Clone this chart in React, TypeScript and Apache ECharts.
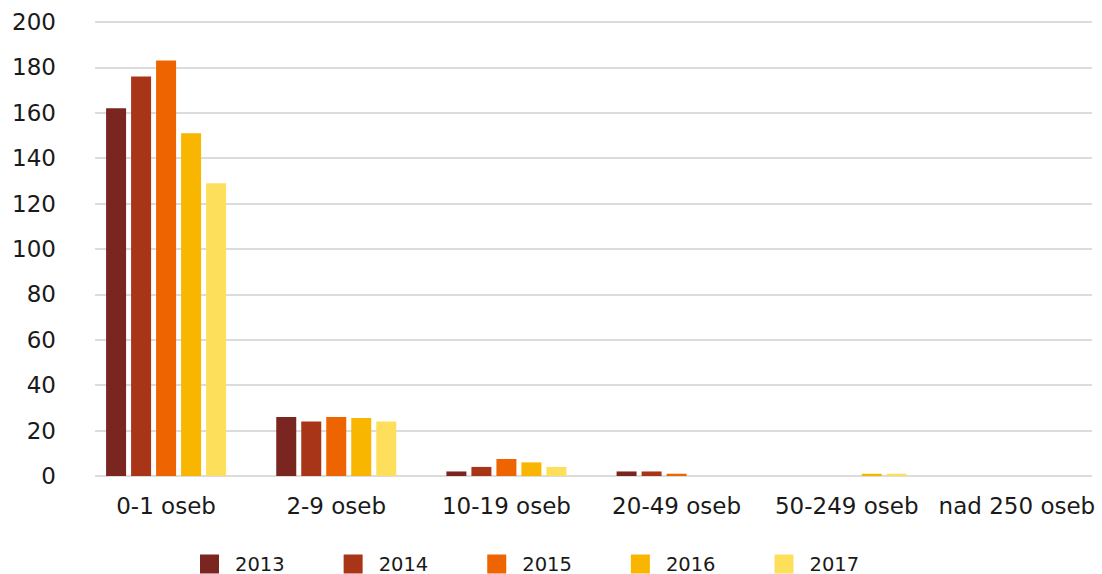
import React, { useEffect, useRef } from "react";
import * as echarts from "echarts";

const categories = ["0-1 oseb", "2-9 oseb", "10-19 oseb", "20-49 oseb", "50-249 oseb", "nad 250 oseb"];
const years = ["2013", "2014", "2015", "2016", "2017"];
const v2013 = [162, 26, 2, 2, 0, 0];
const v2014 = [176, 24, 4, 2, 0, 0];
const v2015 = [183, 26, 7.5, 1, 0, 0];
const v2016 = [151, 25.5, 6, 0, 1, 0];
const v2017 = [129, 24, 4, 0, 1, 0];
const seriesValues = [v2013, v2014, v2015, v2016, v2017];
const colors = ["#7B2520", "#A83517", "#ED6400", "#F9B600", "#FEDF5B"];

const FONT = "DejaVu Sans";

export default function App() {
  const ref = useRef<HTMLDivElement>(null);
  useEffect(() => {
    document.body.style.margin = "0";
    const chart = echarts.init(ref.current!, null, { renderer: "svg" });
    chart.setOption({
      animation: false,
      legend: {
        left: 200,
        top: 554,
        padding: 0,
        itemWidth: 19,
        itemHeight: 19,
        itemGap: 59,
        icon: "rect",
        textStyle: { fontFamily: FONT, fontSize: 19.5, lineHeight: 19, color: "#1a1a1a", padding: [0, 0, 0, 11] },
        data: years,
      },
      grid: [
        { left: 95, right: 10, top: 22, bottom: 98 },
        { left: 81, right: -6, top: 22, bottom: 98 },
      ],
      xAxis: [
        { type: "category", gridIndex: 0, data: categories, show: false },
        {
          type: "category",
          gridIndex: 1,
          data: categories,
          axisLine: { show: false },
          axisTick: { show: false },
          axisLabel: { interval: 0, fontFamily: FONT, fontSize: 23, color: "#1a1a1a", margin: 18 },
        },
      ],
      yAxis: [
        {
          type: "value",
          gridIndex: 0,
          min: 0,
          max: 200,
          interval: 20,
          axisLine: { show: false },
          axisTick: { show: false },
          axisLabel: { fontFamily: FONT, fontSize: 23, color: "#1a1a1a", margin: 39 },
          splitLine: { lineStyle: { color: "#D0D0D0", width: 1.5 } },
        },
        { type: "value", gridIndex: 1, min: 0, max: 200, interval: 20, show: false, splitLine: { show: false } },
      ],
      series: years.map((y, i) => ({
        name: y,
        type: "bar",
        xAxisIndex: 1,
        yAxisIndex: 1,
        data: seriesValues[i],
        barWidth: 20,
        barGap: "25%",
        itemStyle: { color: colors[i] },
      })),
    });
    return () => chart.dispose();
  }, []);
  return <div ref={ref} style={{ width: 1102, height: 574 }} />;
}
